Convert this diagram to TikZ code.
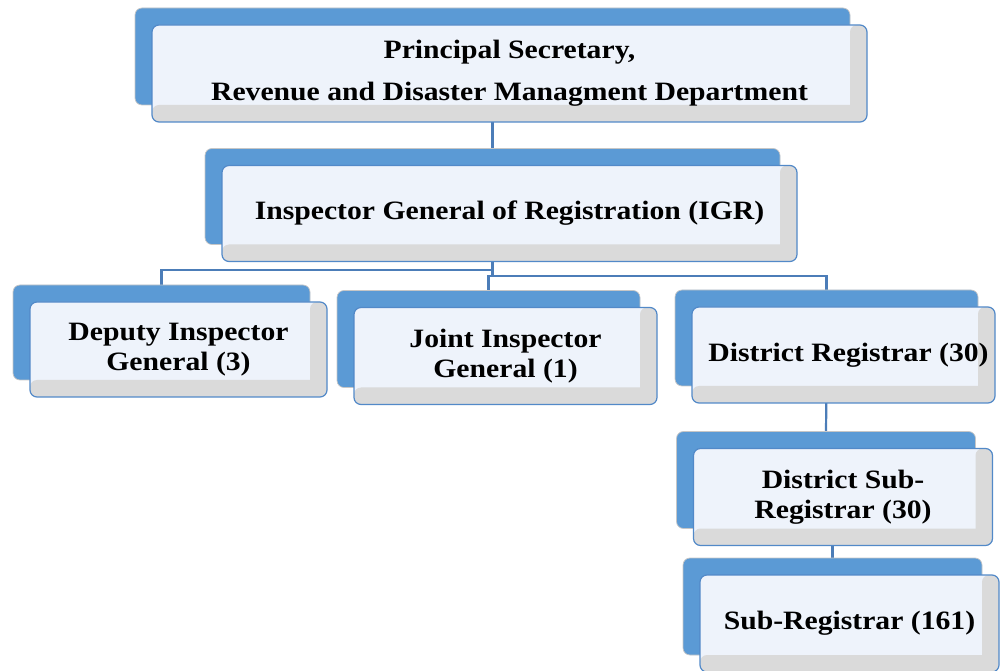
\documentclass[tikz,border=0pt]{standalone}
\usepackage{fontspec}
\setmainfont{Liberation Serif}[FakeStretch=1.12]
\usepackage{xcolor}
\usetikzlibrary{calc}
\usetikzlibrary{positioning}
\usetikzlibrary{backgrounds}

\definecolor{backblue}{HTML}{5B9AD5}
\definecolor{paleblue}{HTML}{EEF3FB}
\definecolor{frameblue}{HTML}{5289C8}
\definecolor{lineblue}{HTML}{4C7DB8}
\definecolor{hatchgray}{HTML}{DADADA}

\tikzset{
  backbox/.style={rounded corners=7pt, fill=backblue, draw=gray!45, line width=0.7pt, inner sep=0pt},
  frontbox/.style={rounded corners=7pt, fill=paleblue, draw=frameblue, line width=1.2pt,
    inner sep=0pt, align=center, font=\fontsize{26.5}{30}\selectfont\bfseries,
    path picture={
      \fill[hatchgray] (path picture bounding box.south west) rectangle ([yshift=17pt]path picture bounding box.south east);
      \fill[hatchgray] ([xshift=-17pt]path picture bounding box.south east) rectangle (path picture bounding box.north east);
    }},
  conn/.style={lineblue, line width=2.2pt}
}

\begin{document}
\begin{tikzpicture}[x=1pt,y=1pt]
\useasboundingbox (0,0) rectangle (1001,670);
% top
\node[backbox, minimum width=715pt, minimum height=97pt] (psb) at (492.5,613.5) {};
\node[frontbox, minimum width=715pt, minimum height=97pt] (ps) at ([shift={(17,-17)}]psb.center)
  {Principal Secretary,\\[12pt]Revenue and Disaster Managment Department};
% IGR
\node[backbox, minimum width=575pt, minimum height=96pt] (igrb) at (492.5,473.5) {};
\node[frontbox, minimum width=575pt, minimum height=96pt] (igr) at ([shift={(17,-17)}]igrb.center)
  {Inspector General of Registration (IGR)};
% third row
\node[backbox, minimum width=297pt, minimum height=95pt] (digb) at (161.5,337.5) {};
\node[frontbox, minimum width=297pt, minimum height=95pt] (dig) at ([shift={(17,-17)}]digb.center)
  {Deputy Inspector\\General (3)};
\node[backbox, minimum width=303pt, minimum height=97pt] (jigb) at (488.5,331) {};
\node[frontbox, minimum width=303pt, minimum height=97pt] (jig) at ([shift={(17,-17)}]jigb.center)
  {Joint Inspector\\General (1)};
\node[backbox, minimum width=303pt, minimum height=96pt] (drb) at (826.5,332) {};
\node[frontbox, minimum width=303pt, minimum height=96pt] (dr) at ([shift={(17,-17)}]drb.center)
  {\hspace*{10pt}District Registrar (30)};
% district chain
\node[backbox, minimum width=299pt, minimum height=97pt] (dsrb) at (826,190) {};
\node[frontbox, minimum width=299pt, minimum height=97pt] (dsr) at ([shift={(17,-17)}]dsrb.center)
  {District Sub-\\Registrar (30)};
\node[backbox, minimum width=299pt, minimum height=97pt] (srb) at (832.5,63.5) {};
\node[frontbox, minimum width=299pt, minimum height=97pt] (sr) at ([shift={(17,-17)}]srb.center)
  {Sub-Registrar (161)};

\begin{scope}[on background layer]
\draw[conn] (psb.south) -- (igrb.north);
\coordinate (fork) at ([yshift=-25pt]igrb.south);
\draw[conn] (igrb.south) -- (fork) -| (digb.north);
\draw[conn] (fork) -- ([yshift=-6pt]fork);
\draw[conn] ([yshift=-6pt]fork) -| (jigb.north);
\draw[conn] ([yshift=-6pt]fork) -| (drb.north);
\draw[conn] (drb.south) -- (dsrb.north);
\draw[conn] (srb.north |- dsrb.south) -- (srb.north);
\end{scope}
\end{tikzpicture}
\end{document}
